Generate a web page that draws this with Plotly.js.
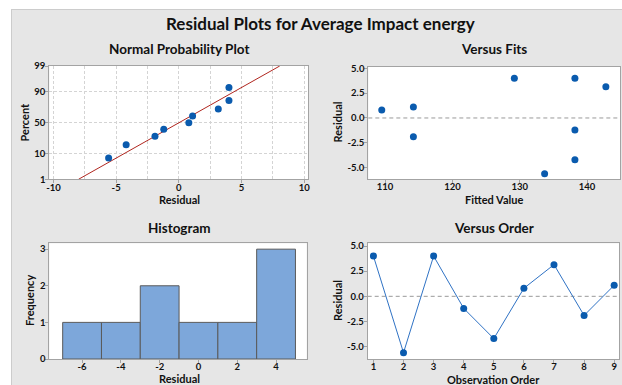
<!DOCTYPE html>
<html>
<head>
<meta charset="utf-8">
<script src="https://cdn.plot.ly/plotly-3.0.1.min.js"></script>
<style>html,body{margin:0;padding:0;background:#fff;}#chart{width:622px;height:385px;}</style>
</head>
<body>
<div id="chart"></div>
<script>
// ---- data ----
const observationOrder = [1, 2, 3, 4, 5, 6, 7, 8, 9];
const residuals = [4.0, -5.6, 4.0, -1.2, -4.2, 0.8, 3.15, -1.9, 1.1];
const fittedValues = [129.2, 133.7, 138.2, 138.2, 138.2, 109.5, 142.8, 114.2, 114.2];
const probPercent = [7.4, 18.1, 28.7, 39.4, 50.0, 60.6, 71.3, 81.9, 92.6];
const fitLineResidual = [-8.0, 8.05];
const fitLinePercent = [1, 99];
const percentTicks = [1, 10, 50, 90, 99];
const percentTickText = ['1', '10', '50', '90', '99'];
const probXTicks = [-10, -5, 0, 5, 10];
const probXTickText = ['-10', '-5', '0', '5', '10'];
const histTicks = [-6, -4, -2, 0, 2, 4];
const histTickText = ['-6', '-4', '-2', '0', '2', '4'];
const freqTicks = [0, 1, 2, 3];
const fitsTicks = [110, 120, 130, 140];
const residTicks = [-5, -2.5, 0, 2.5, 5];
const residTickText = ['-5.0', '-2.5', '0.0', '2.5', '5.0'];

// inverse standard normal CDF (probability-axis scale)
function normInv(p) {
  const a = [-3.969683028665376e+01, 2.209460984245205e+02, -2.759285104469687e+02, 1.383577518672690e+02, -3.066479806614716e+01, 2.506628277459239e+00];
  const b = [-5.447609879822406e+01, 1.615858368580409e+02, -1.556989798598866e+02, 6.680131188771972e+01, -1.328068155288572e+01];
  const c = [-7.784894002430293e-03, -3.223964580411365e-01, -2.400758277161838e+00, -2.549732539343734e+00, 4.374664141464968e+00, 2.938163982698783e+00];
  const d = [7.784695709041462e-03, 3.224671290700398e-01, 2.445134137142996e+00, 3.754408661907416e+00];
  const pl = 0.02425, ph = 1 - pl;
  let q, r;
  if (p < pl) { q = Math.sqrt(-2 * Math.log(p)); return (((((c[0]*q+c[1])*q+c[2])*q+c[3])*q+c[4])*q+c[5]) / ((((d[0]*q+d[1])*q+d[2])*q+d[3])*q+1); }
  if (p > ph) { q = Math.sqrt(-2 * Math.log(1 - p)); return -(((((c[0]*q+c[1])*q+c[2])*q+c[3])*q+c[4])*q+c[5]) / ((((d[0]*q+d[1])*q+d[2])*q+d[3])*q+1); }
  q = p - 0.5; r = q * q;
  return (((((a[0]*r+a[1])*r+a[2])*r+a[3])*r+a[4])*r+a[5])*q / (((((b[0]*r+b[1])*r+b[2])*r+b[3])*r+b[4])*r+1);
}
const z = v => normInv(v / 100);

const sortedResiduals = residuals.slice().sort((a, b) => a - b);

const W = 622, H = 385;
const px = v => v / W;
const py = v => 1 - v / H;

const FONT = 'Lato, "Open Sans", sans-serif';
const TXT = '#111';
const markerBlue = '#0A5BAE';
const frame = '#A3A3A3';
const gridC = '#D4D4D4';
const tickFont = {family: FONT, size: 9.5, color: TXT, weight: 'bold'};

function xAxis(extra) {
  return Object.assign({
    showline: true, mirror: true, linecolor: frame, linewidth: 1,
    ticks: 'outside', ticklen: 3, tickcolor: frame, tickwidth: 1, ticklabelstandoff: -4,
    tickfont: tickFont, zeroline: false, showgrid: false, fixedrange: true
  }, extra);
}
function yAxis(extra) {
  return Object.assign({
    showline: true, mirror: true, linecolor: frame, linewidth: 1,
    ticks: 'outside', ticklen: 3, tickcolor: frame, tickwidth: 1, ticklabelstandoff: -2,
    tickfont: tickFont, zeroline: false, showgrid: false, fixedrange: true
  }, extra);
}

const traces = [
  // Normal probability plot
  {x: fitLineResidual, y: fitLinePercent.map(z), type: 'scatter', mode: 'lines',
   line: {color: '#B0261F', width: 1}, xaxis: 'x', yaxis: 'y', hoverinfo: 'skip'},
  {x: sortedResiduals, y: probPercent.map(z), type: 'scatter', mode: 'markers',
   marker: {color: markerBlue, size: 7}, xaxis: 'x', yaxis: 'y'},
  // Versus fits
  {x: fittedValues, y: residuals, type: 'scatter', mode: 'markers',
   marker: {color: markerBlue, size: 7}, xaxis: 'x2', yaxis: 'y2'},
  // Histogram
  {x: residuals, type: 'histogram', xbins: {start: -7, end: 5, size: 2},
   marker: {color: '#7DA7DA', line: {color: '#5A5A5A', width: 1}},
   xaxis: 'x3', yaxis: 'y3'},
  // Versus order
  {x: observationOrder, y: residuals, type: 'scatter', mode: 'lines+markers',
   line: {color: '#2F72C4', width: 1}, marker: {color: markerBlue, size: 7},
   xaxis: 'x4', yaxis: 'y4'}
];

function ann(text, x, y, size, angle) {
  return {text: '<b>' + text + '</b>', x: px(x), y: py(y), xref: 'paper', yref: 'paper',
    showarrow: false, xanchor: 'center', yanchor: 'middle', textangle: angle || 0,
    font: {family: FONT, size: size, color: TXT, weight: 'bold'}};
}

const layout = {
  width: W, height: H,
  margin: {l: 0, r: 0, t: 0, b: 0},
  paper_bgcolor: '#E6E6E6', plot_bgcolor: '#FFFFFF',
  showlegend: false, bargap: 0,
  font: {family: FONT, color: TXT},
  xaxis: xAxis({domain: [px(49.3), px(308.3)], anchor: 'y', range: [-10.33, 10.33],
    tickmode: 'array', tickvals: probXTicks, ticktext: probXTickText,
    showgrid: true, gridcolor: gridC, griddash: '3px,2px',
    minor: {tickmode: 'linear', tick0: -10, dtick: 2.5, showgrid: true, gridcolor: gridC, griddash: '3px,2px', ticks: ''}}),
  yaxis: yAxis({domain: [py(179.3), py(66)], anchor: 'x', range: [z(1), z(99)],
    tickmode: 'array', tickvals: percentTicks.map(z), ticktext: percentTickText,
    showgrid: true, gridcolor: gridC, griddash: '3px,2px'}),
  xaxis2: xAxis({domain: [px(368.3), px(620)], anchor: 'y2', range: [107.5, 144.9],
    tickmode: 'array', tickvals: fitsTicks}),
  yaxis2: yAxis({domain: [py(179), py(66.7)], anchor: 'x2', range: [-6.14, 5.16],
    tickmode: 'array', tickvals: residTicks, ticktext: residTickText}),
  xaxis3: xAxis({domain: [px(49.3), px(306.7)], anchor: 'y3', range: [-7.69, 5.58],
    tickmode: 'array', tickvals: histTicks, ticktext: histTickText}),
  yaxis3: yAxis({domain: [py(359), py(243.3)], anchor: 'x3', range: [0, 3.16],
    tickmode: 'array', tickvals: freqTicks}),
  xaxis4: xAxis({domain: [px(367.7), px(619.3)], anchor: 'y4', range: [0.81, 9.17],
    tickmode: 'array', tickvals: observationOrder}),
  yaxis4: yAxis({domain: [py(359), py(243.3)], anchor: 'x4', range: [-6.23, 5.27],
    tickmode: 'array', tickvals: residTicks, ticktext: residTickText}),
  shapes: [
    {type: 'rect', xref: 'paper', yref: 'paper', x0: 0, x1: 1, y0: py(9), y1: 1,
     fillcolor: '#FFFFFF', line: {width: 0}, layer: 'below'},
    {type: 'rect', xref: 'paper', yref: 'paper', x0: 0, x1: px(11), y0: 0, y1: 1,
     fillcolor: '#FFFFFF', line: {width: 0}, layer: 'below'},
    {type: 'line', xref: 'paper', yref: 'paper', x0: px(11), x1: 1, y0: py(9.5), y1: py(9.5),
     line: {color: '#CCCCCC', width: 1}},
    {type: 'line', xref: 'paper', yref: 'paper', x0: px(11.5), x1: px(11.5), y0: 0, y1: py(9),
     line: {color: '#CCCCCC', width: 1}},
    {type: 'line', xref: 'x2 domain', yref: 'y2', x0: 0, x1: 1, y0: 0, y1: 0,
     line: {color: '#9A9A9A', width: 1, dash: '4px,3px'}, layer: 'below'},
    {type: 'line', xref: 'x4 domain', yref: 'y4', x0: 0, x1: 1, y0: 0, y1: 0,
     line: {color: '#9A9A9A', width: 1, dash: '4px,3px'}, layer: 'below'}
  ],
  annotations: [
    ann('Residual Plots for Average Impact energy', 321, 23, 17),
    ann('Normal Probability Plot', 179, 49, 13.5),
    ann('Versus Fits', 494, 49, 13.5),
    ann('Histogram', 179, 228, 13.5),
    ann('Versus Order', 494, 228, 13.5),
    ann('Residual', 179, 200, 11),
    ann('Fitted Value', 494, 200, 11),
    ann('Residual', 179, 378, 11),
    ann('Observation Order', 494, 379, 11),
    ann('Percent', 24, 122.5, 11, -90),
    ann('Residual', 337, 122.5, 11, -90),
    ann('Frequency', 29, 301, 11, -90),
    ann('Residual', 337, 301, 11, -90)
  ]
};

Plotly.newPlot('chart', traces, layout, {displayModeBar: false, staticPlot: true});
</script>
</body>
</html>
